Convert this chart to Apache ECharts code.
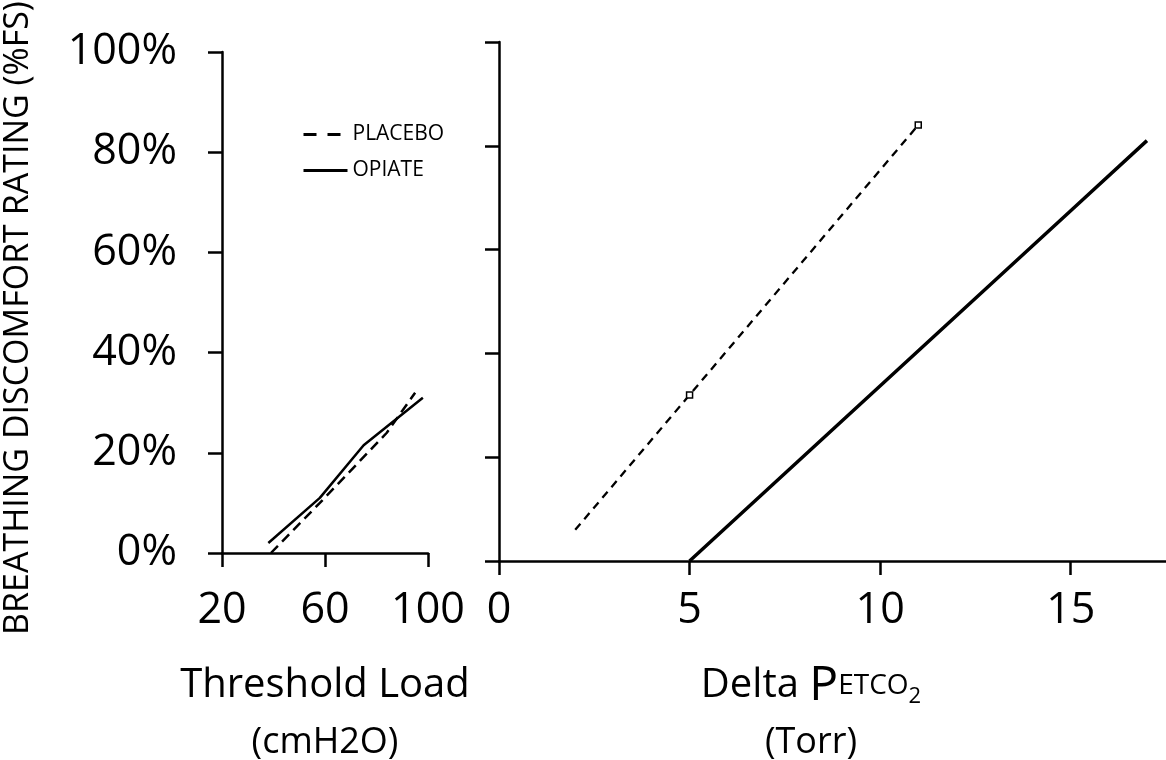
<!DOCTYPE html>
<html lang="en">
<head>
    <meta charset="UTF-8">
    <title>Breathing discomfort</title>
    <script type="text/javascript" src="https://cdn.jsdelivr.net/npm/echarts@6/dist/echarts.min.js"></script>
    <style>
        html, body { margin: 0; padding: 0; background: #fff; }
    </style>
</head>
<body>
    <div id="main" style="width: 1166px; height: 760px"></div>
    <script type="text/javascript">
        // values: [x, rating %FS]
        var loadPlacebo = [[39, 0], [58, 10], [84, 24], [95, 32]];
        var loadOpiate = [[38, 2], [58, 11], [75, 21.5], [98, 31]];
        var co2Placebo = [[2, 6], [5, 32], [11, 84]];
        var co2PlaceboMarked = [false, true, true];
        var co2Opiate = [[5, 0], [15, 67.5], [17, 81]];

        var loadTicks = [20, 60, 100];
        var co2Ticks = [0, 5, 10, 15];
        var ratingTicks = [0, 20, 40, 60, 80, 100];

        var FONT = 'Open Sans';
        var black = '#000';

        var myChart = echarts.init(document.getElementById('main'));

        function axisBase() {
            return {
                axisLine: { lineStyle: { color: black, width: 2.5 } },
                axisTick: { length: 14, lineStyle: { color: black, width: 2.5 } },
                splitLine: { show: false }
            };
        }

        var xLeft = echarts.util.merge(axisBase(), {
            type: 'value', gridIndex: 0, min: 20, max: 100, interval: 40,
            axisLine: { onZero: false },
            axisTick: { customValues: loadTicks },
            axisLabel: { customValues: loadTicks, color: black, fontFamily: FONT, fontSize: 43, margin: 36 }
        });
        var xRight = echarts.util.merge(axisBase(), {
            type: 'value', gridIndex: 1, min: 0, max: 17.5,
            axisLine: { onZero: false },
            axisTick: { customValues: co2Ticks },
            axisLabel: { customValues: co2Ticks, color: black, fontFamily: FONT, fontSize: 43, margin: 28 }
        });
        var yLeft = echarts.util.merge(axisBase(), {
            type: 'value', gridIndex: 0, min: 0, max: 100, interval: 20,
            axisTick: { customValues: ratingTicks },
            axisLabel: {
                customValues: ratingTicks,
                color: black, fontFamily: FONT, fontSize: 43, margin: 45,
                formatter: function (v) { return v + '%'; }
            }
        });
        var yRight = echarts.util.merge(axisBase(), {
            type: 'value', gridIndex: 1, min: 0, max: 100, interval: 20,
            axisLabel: { show: false }
        });

        var plain = { fontFamily: FONT, fontWeight: 'normal', color: black };
        function rich(size, lh, extra) {
            return echarts.util.extend(echarts.util.extend({ fontSize: size, lineHeight: lh }, plain), extra || {});
        }

        myChart.setOption({
            animation: false,
            textStyle: { fontFamily: FONT },
            grid: [
                { left: 222, right: 738, top: 52, bottom: 207 },
                { left: 499, right: 0, top: 42, bottom: 199 }
            ],
            xAxis: [xLeft, xRight],
            yAxis: [yLeft, yRight],
            legend: {
                orient: 'vertical',
                left: 297,
                top: 119,
                itemWidth: 44,
                itemHeight: 14,
                itemGap: 15,
                textStyle: { color: black, fontSize: 21, fontFamily: FONT },
                data: [
                    { name: 'PLACEBO', itemStyle: { opacity: 0 }, lineStyle: { type: [13, 11], width: 3 } },
                    { name: 'OPIATE', itemStyle: { opacity: 0 }, lineStyle: { width: 3 } }
                ]
            },
            title: [
                {
                    text: '{a|Threshold Load}\n{b|(cmH2O)}',
                    left: 320, top: 650, textAlign: 'center',
                    textStyle: { fontWeight: 'normal', rich: { a: rich(40, 62), b: rich(36, 52) } }
                },
                {
                    text: '{a|Delta }{p|P}{s|ETCO}{sub|2}\n{b|(Torr)}',
                    left: 806, top: 650, textAlign: 'center',
                    textStyle: {
                        fontWeight: 'normal',
                        rich: {
                            a: rich(40, 62),
                            p: rich(48, 62),
                            s: rich(28, 62),
                            sub: rich(22, 62, { padding: [22, 0, 0, 0] }),
                            b: rich(36, 52)
                        }
                    }
                }
            ],
            graphic: [{
                type: 'text',
                x: 18, y: 318,
                rotation: Math.PI / 2,
                style: {
                    text: 'BREATHING DISCOMFORT RATING (%FS)',
                    font: '34px "Open Sans"',
                    fill: black,
                    align: 'center',
                    verticalAlign: 'middle'
                }
            }],
            series: [
                {
                    name: 'PLACEBO', type: 'line', xAxisIndex: 0, yAxisIndex: 0,
                    data: loadPlacebo, symbol: 'none', color: black,
                    lineStyle: { color: black, width: 2.5, type: [10, 6] }
                },
                {
                    name: 'OPIATE', type: 'line', xAxisIndex: 0, yAxisIndex: 0,
                    data: loadOpiate, symbol: 'none', color: black,
                    lineStyle: { color: black, width: 2.5 }
                },
                {
                    name: 'PLACEBO', type: 'line', xAxisIndex: 1, yAxisIndex: 1,
                    data: co2Placebo.map(function (p, i) {
                        return { value: p, symbol: co2PlaceboMarked[i] ? 'rect' : 'none' };
                    }),
                    symbolSize: 6,
                    showAllSymbol: true,
                    itemStyle: { color: '#fff', borderColor: black, borderWidth: 1.5 },
                    lineStyle: { color: black, width: 2.3, type: [8, 6] }
                },
                {
                    name: 'OPIATE', type: 'line', xAxisIndex: 1, yAxisIndex: 1,
                    data: co2Opiate, symbol: 'none', color: black,
                    lineStyle: { color: black, width: 3.5 }
                }
            ]
        });
    </script>
</body>
</html>
